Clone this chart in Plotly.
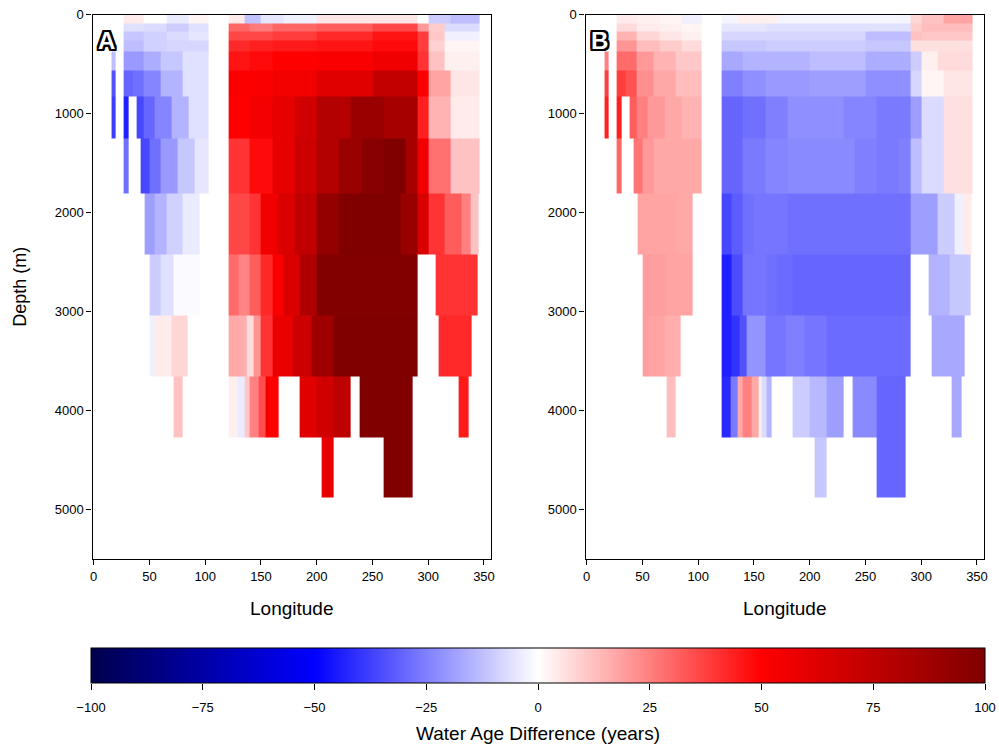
import plotly.graph_objects as go

# ---------------- data ----------------
DEPTH_EDGES = [0, 90, 170, 260, 375, 565, 830, 1250, 1810, 2420, 3040, 3660, 4270, 4880]

# longitude cell edges for each depth layer, grouped into contiguous ocean segments
LON_EDGES = [
    [[27, 45, 65, 85, 103], [121, 135, 150, 170, 200, 250, 290, 300, 320, 346]],
    [[27, 45, 65, 85, 103], [121, 140, 160, 200, 250, 290, 300, 315, 346]],
    [[27, 45, 65, 85, 103], [121, 140, 160, 200, 250, 290, 300, 315, 346]],
    [[27, 45, 65, 85, 103], [121, 140, 160, 200, 250, 290, 300, 315, 346]],
    [[16, 20], [27, 35, 45, 60, 80, 103], [121, 140, 160, 200, 250, 290, 300, 315, 346]],
    [[16, 20], [27, 35, 45, 60, 80, 103], [121, 140, 160, 200, 250, 290, 300, 320, 346]],
    [[16, 20], [27, 31], [38, 45, 55, 70, 85, 103],
     [121, 140, 160, 180, 200, 230, 260, 290, 300, 320, 346]],
    [[27, 31], [42, 50, 60, 75, 90, 103],
     [121, 140, 160, 180, 200, 220, 240, 260, 280, 290, 300, 320, 346]],
    [[46, 55, 65, 80, 95],
     [121, 130, 140, 150, 165, 180, 200, 220, 275, 290, 300, 315, 330, 338, 345]],
    [[50, 60, 72, 95], [121, 130, 140, 150, 160, 170, 185, 200, 290], [307, 325, 344]],
    [[50, 55, 70, 84], [121, 130, 137, 143, 150, 160, 178, 195, 215, 290], [309, 339]],
    [[72, 80], [121, 129, 135, 140, 148, 154, 157, 161, 166], [185, 200, 215, 230],
     [238, 260, 286], [327, 336]],
    [[204, 215], [260, 286]],
]

# Panel A water age difference (years)
AGE_A = [
    [[4, 0, -4, 2], [4, -12, -5, -3, 5, 5, 0, -10, -13]],
    [[-6, -7, -10, -6], [30, 26, 30, 32, 36, 20, 10, -7]],
    [[-11, -9, -7, -5], [36, 36, 38, 42, 46, 38, 11, -3]],
    [[-13, -9, -8, -8], [42, 44, 45, 46, 48, 38, 9, 2]],
    [[-13], [-20, -20, -16, -11, -6], [46, 48, 50, 52, 56, 40, 12, 3]],
    [[-34], [-30, -28, -24, -15, -6], [51, 52, 55, 62, 74, 50, 18, 5]],
    [[-38], [-44], [-36, -30, -24, -15, -6], [50, 54, 60, 68, 80, 90, 85, 44, 15, 4]],
    [[-28], [-36, -28, -20, -11, -5], [40, 48, 60, 70, 80, 90, 97, 100, 85, 55, 28, 12]],
    [[-19, -15, -9, -4], [36, 36, 40, 55, 64, 75, 92, 100, 90, 65, 40, 32, 25, 12]],
    [[-10, -6, -1], [29, 24, 32, 42, 52, 64, 82, 99], [40, 40]],
    [[-3, 4, 8], [17, 16, 7, 21, 40, 58, 70, 88, 100], [42]],
    [[12], [3, -4, 11, 25, 35, 55, 50, 50], [62, 68, 76], [100, 100], [45]],
    [[60], [100]],
]

# Panel B water age difference (years)
AGE_B = [
    [[4, 3, 2, -3], [-2, 3, 3, -2, -2, -2, 8, 12, 18]],
    [[7, 4, 3, 2], [-5, -5, -6, -6, -6, 10, 13, 13]],
    [[15, 8, 5, 3], [-8, -8, -8, -8, -13, 12, 11, 11]],
    [[21, 13, 10, 7], [-11, -11, -10, -10, -11, 6, 6, 6]],
    [[25], [29, 29, 20, 15, 11], [-17, -15, -15, -13, -16, -10, 3, 7]],
    [[38], [38, 34, 22, 17, 13], [-25, -22, -20, -19, -22, -8, 2, 5]],
    [[44], [44], [32, 25, 20, 17, 15], [-30, -28, -25, -22, -22, -24, -26, -19, -7, 6]],
    [[30], [27, 20, 17, 17, 17], [-30, -26, -24, -23, -23, -23, -25, -26, -25, -13, -7, 6]],
    [[18, 18, 18, 17], [-36, -32, -28, -27, -27, -28, -28, -28, -28, -19, -19, -10, -3, 4]],
    [[19, 19, 18], [-44, -35, -27, -27, -28, -29, -30, -30], [-15, -11]],
    [[19, 18, 16], [-44, -40, -34, -21, -21, -27, -25, -27, -29], [-17]],
    [[13], [-42, -26, 17, 25, 17, 3, -7, -15], [-10, -14, -19], [-23, -30], [-17]],
    [[-11], [-30]],
]

X_TICKS = [0, 50, 100, 150, 200, 250, 300, 350]
Y_TICKS = [0, 1000, 2000, 3000, 4000, 5000]
CB_TICKS = [-100, -75, -50, -25, 0, 25, 50, 75, 100]
CB_RANGE = [-100, 100]
PANEL_LABELS = ["A", "B"]

# ---------------- figure ----------------
SEISMIC = [[0.0, "rgb(0,0,77)"], [0.25, "rgb(0,0,255)"], [0.5, "rgb(255,255,255)"],
           [0.75, "rgb(255,0,0)"], [1.0, "rgb(128,0,0)"]]

# common longitude grid = union of every layer's cell edges
GRID = sorted({e for layer in LON_EDGES for seg in layer for e in seg})


def value_at(segments, values, lon):
    for seg, val in zip(segments, values):
        for i in range(len(seg) - 1):
            if seg[i] <= lon < seg[i + 1]:
                return val[i]
    return None  # land


def section(ages):
    z = []
    for k in range(len(LON_EDGES)):
        z.append([value_at(LON_EDGES[k], ages[k], 0.5 * (GRID[i] + GRID[i + 1]))
                  for i in range(len(GRID) - 1)])
    return z


fig = go.Figure()
for p, ages in enumerate([AGE_A, AGE_B]):
    fig.add_trace(go.Heatmap(
        x=GRID, y=DEPTH_EDGES, z=section(ages), coloraxis="coloraxis",
        xaxis="x" if p == 0 else "x2", yaxis="y" if p == 0 else "y2", hoverongaps=False,
    ))

# empty trace that carries the axis used for colour-bar ticks and label
fig.add_trace(go.Scatter(x=[None], y=[None], xaxis="x3", yaxis="y3",
                         showlegend=False, hoverinfo="skip"))

FONT = "Liberation Sans"
axis_common = dict(showline=True, linecolor="black", linewidth=1.3, mirror=True,
                   ticks="outside", ticklen=5, tickwidth=1.2, tickcolor="black",
                   showgrid=False, zeroline=False,
                   tickfont=dict(family=FONT, size=13, color="black"))
yd = [1 - 559 / 744, 1 - 14.5 / 744]
cb_left, cb_right, cb_top, cb_bot = 91, 985, 648, 683
fig.update_layout(
    width=999, height=744, margin=dict(l=0, r=0, t=0, b=0, autoexpand=False),
    plot_bgcolor="white", paper_bgcolor="white",
    font=dict(family=FONT, color="black"),
    showlegend=False,
    xaxis=dict(domain=[92.5 / 999, 491 / 999], range=[-1.1, 356.3], tickvals=X_TICKS,
               title=dict(text="Longitude", font=dict(size=19), standoff=18),
               anchor="y", **axis_common),
    yaxis=dict(domain=yd, range=[5500, 0], tickvals=Y_TICKS,
               title=dict(text="Depth (m)", font=dict(size=18), standoff=23),
               anchor="x", **axis_common),
    xaxis2=dict(domain=[585.5 / 999, 984 / 999], range=[-1.1, 356.3], tickvals=X_TICKS,
                title=dict(text="Longitude", font=dict(size=19), standoff=18),
                anchor="y2", **axis_common),
    yaxis2=dict(domain=yd, range=[5500, 0], tickvals=Y_TICKS, anchor="x2", **axis_common),
    xaxis3=dict(domain=[cb_left / 999, cb_right / 999], range=CB_RANGE, tickvals=CB_TICKS,
                ticks="outside", ticklen=6, tickwidth=1.2, tickcolor="black",
                ticklabelstandoff=6,
                showline=False, showgrid=False, zeroline=False, anchor="y3",
                tickfont=dict(family=FONT, size=13, color="black"),
                title=dict(text="Water Age Difference (years)",
                           font=dict(family=FONT, size=19, color="black"), standoff=14)),
    yaxis3=dict(domain=[1 - cb_bot / 744, 1 - cb_top / 744], range=[0, 1], visible=False,
                anchor="x3"),
    coloraxis=dict(
        colorscale=SEISMIC, cmin=CB_RANGE[0], cmax=CB_RANGE[1],
        colorbar=dict(
            orientation="h", x=(cb_left + cb_right) / 2 / 999, xanchor="center",
            y=1 - cb_top / 744, yanchor="top",
            len=cb_right - cb_left, lenmode="pixels", thickness=cb_bot - cb_top,
            thicknessmode="pixels", xpad=0, ypad=0, outlinecolor="black", outlinewidth=1,
            ticks="", showticklabels=False,
        ),
    ),
)

outline = ", ".join(f"{dx}px {dy}px 0 #000" for dx in (-2, -1, 0, 1, 2) for dy in (-2, -1, 0, 1, 2)
                    if (dx, dy) != (0, 0))
for p, (lab, xpix) in enumerate(zip(PANEL_LABELS, [106, 599])):
    fig.add_annotation(x=xpix / 999, y=1 - 41 / 744, xref="paper", yref="paper",
                       text=f"<b>{lab}</b>", showarrow=False, xanchor="center", yanchor="middle",
                       font=dict(family=FONT, size=24, color="white", shadow=outline))

fig.write_html("out.html")
